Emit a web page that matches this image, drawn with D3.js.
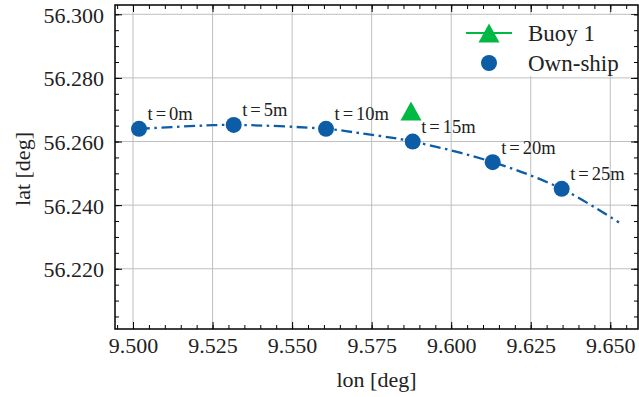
<!DOCTYPE html>
<html>
<head>
<meta charset="utf-8">
<script src="https://cdn.jsdelivr.net/npm/d3@7"></script>
<style>
  html, body { margin: 0; padding: 0; background: #fff; }
  svg { display: block; font-family: "Liberation Serif", "Times New Roman", serif; }
</style>
</head>
<body>
<div id="chart"></div>
<script>
// axis limits
const xLim = [9.49434, 9.65871];
const yLim = [56.20106, 56.30292];
const xMajor = [9.500, 9.525, 9.550, 9.575, 9.600, 9.625, 9.650];
const yMajor = [56.220, 56.240, 56.260, 56.280, 56.300];

// own-ship track (dash-dot line)
const trackLon = [9.50189, 9.52011, 9.53165, 9.56065, 9.57134, 9.58790, 9.61304, 9.63473, 9.65273];
const trackLat = [56.26398, 56.26492, 56.26523, 56.26398, 56.26263, 56.25999, 56.25352, 56.24513, 56.23455];

// own-ship positions every 5 minutes
const shipLabels = ["t=0m", "t=5m", "t=10m", "t=15m", "t=20m", "t=25m"];
const shipLon = [9.50189, 9.53165, 9.56065, 9.58790, 9.61304, 9.63473];
const shipLat = [56.26398, 56.26523, 56.26398, 56.25999, 56.25352, 56.24513];

// buoy
const buoyLon = [9.58737];
const buoyLat = [56.26963];

const legendLabels = ["Buoy 1", "Own-ship"];

const width = 639, height = 397;
const margin = { left: 115, right: 1, top: 5, bottom: 68 };
const blue = "#0C5DA5", green = "#00B945";
const serif = "'Liberation Serif', 'Times New Roman', serif";

const svg = d3.select("#chart").append("svg")
    .attr("width", width)
    .attr("height", height);

const x = d3.scaleLinear().domain(xLim).range([margin.left, width - margin.right]);
const y = d3.scaleLinear().domain(yLim).range([height - margin.bottom, margin.top]);

const x0 = x.range()[0], x1 = x.range()[1];
const y0 = y.range()[1], y1 = y.range()[0];

function minorTicks(lim, step) {
    const out = [];
    const start = Math.ceil(lim[0] / step - 1e-9);
    const end = Math.floor(lim[1] / step + 1e-9);
    for (let i = start; i <= end; i++) out.push(+(i * step).toFixed(4));
    return out;
}
const xMinor = minorTicks(xLim, 0.005);
const yMinor = minorTicks(yLim, 0.005);

// grid
svg.append("g").selectAll("line")
    .data(xMajor)
    .enter().append("line")
    .attr("x1", d => x(d)).attr("x2", d => x(d))
    .attr("y1", y0).attr("y2", y1)
    .style("stroke", "#bfbfbf").style("stroke-width", 1);
svg.append("g").selectAll("line")
    .data(yMajor)
    .enter().append("line")
    .attr("x1", x0).attr("x2", x1)
    .attr("y1", d => y(d)).attr("y2", d => y(d))
    .style("stroke", "#bfbfbf").style("stroke-width", 1);

// axes, ticks pointing in
function addAxis(axis, transform, ticks, size, labels) {
    const g = svg.append("g")
        .attr("transform", transform)
        .call(axis.tickValues(ticks).tickSize(-size).tickPadding(labels ? 9 : 0)
            .tickFormat(labels ? d3.format(".3f") : () => ""));
    g.attr("font-family", null);
    g.select(".domain").remove();
    g.selectAll(".tick line").style("stroke", "#000").style("stroke-width", 1);
    g.selectAll("text")
        .style("font-family", serif)
        .style("font-size", "22px")
        .style("fill", "#222");
    return g;
}

const xb = addAxis(d3.axisBottom(x), `translate(0,${y1})`, xMajor, 7, true);
xb.selectAll("text").attr("dy", "0.68em");
addAxis(d3.axisBottom(x), `translate(0,${y1})`, xMinor, 4, false);
addAxis(d3.axisTop(x), `translate(0,${y0})`, xMajor, 7, false);
addAxis(d3.axisTop(x), `translate(0,${y0})`, xMinor, 4, false);

const yl = addAxis(d3.axisLeft(y), `translate(${x0},0)`, yMajor, 7, true);
yl.selectAll("text").attr("dy", "0.36em").attr("x", -11);
addAxis(d3.axisLeft(y), `translate(${x0},0)`, yMinor, 4, false);
addAxis(d3.axisRight(y), `translate(${x1},0)`, yMajor, 7, false);
addAxis(d3.axisRight(y), `translate(${x1},0)`, yMinor, 4, false);

// frame
svg.append("rect")
    .attr("x", x0).attr("y", y0)
    .attr("width", x1 - x0).attr("height", y1 - y0)
    .style("fill", "none").style("stroke", "#000").style("stroke-width", 1.5);

// track
const track = trackLon.map((d, i) => [d, trackLat[i]]);
const line = d3.line()
    .x(d => x(d[0]))
    .y(d => y(d[1]))
    .curve(d3.curveCatmullRom.alpha(0.5));

svg.append("path")
    .datum(track)
    .attr("d", line)
    .style("fill", "none")
    .style("stroke", blue)
    .style("stroke-width", 2.3)
    .style("stroke-dasharray", "11,4.5,2.5,4.5");

// own-ship markers
const ships = shipLon.map((d, i) => ({ lon: d, lat: shipLat[i], label: shipLabels[i] }));
svg.append("g").selectAll("circle")
    .data(ships)
    .enter().append("circle")
    .attr("cx", d => x(d.lon))
    .attr("cy", d => y(d.lat))
    .attr("r", 8)
    .style("fill", blue);

// buoy marker
const tri = (cx, cy, w, h) => `M${cx},${cy - h / 2}L${cx + w / 2},${cy + h / 2}L${cx - w / 2},${cy + h / 2}Z`;
svg.append("g").selectAll("path")
    .data(buoyLon.map((d, i) => [d, buoyLat[i]]))
    .enter().append("path")
    .attr("d", d => tri(x(d[0]), y(d[1]), 21, 19))
    .style("fill", green);

// time annotations
const ann = svg.append("g").selectAll("text")
    .data(ships)
    .enter().append("text")
    .attr("x", d => x(d.lon) + 8.5)
    .attr("y", d => y(d.lat) - 8.5)
    .style("font-family", serif)
    .style("font-size", "18.5px")
    .style("fill", "#222");
ann.each(function(d) {
    const parts = d.label.split("=");
    const t = d3.select(this);
    t.append("tspan").text(parts[0]);
    t.append("tspan").attr("dx", 3).text("=");
    t.append("tspan").attr("dx", 3).text(parts[1]);
});

// legend
const leg = svg.append("g");
leg.append("rect")
    .attr("x", 457).attr("y", 15)
    .attr("width", 177).attr("height", 61)
    .style("fill", "#fff");
leg.append("line")
    .attr("x1", 466).attr("x2", 512)
    .attr("y1", 33).attr("y2", 33)
    .style("stroke", green).style("stroke-width", 2);
leg.append("path")
    .attr("d", tri(489, 33, 21, 19))
    .style("fill", green);
leg.append("circle")
    .attr("cx", 489).attr("cy", 63).attr("r", 8)
    .style("fill", blue);
leg.selectAll("text")
    .data(legendLabels)
    .enter().append("text")
    .attr("x", 528)
    .attr("y", (d, i) => 40.5 + i * 30)
    .style("font-family", serif)
    .style("font-size", "23px")
    .style("fill", "#222")
    .text(d => d);

// axis titles
svg.append("text")
    .attr("x", (x0 + x1) / 2)
    .attr("y", 386.5)
    .attr("text-anchor", "middle")
    .style("font-family", serif)
    .style("font-size", "22px")
    .style("fill", "#222")
    .text("lon [deg]");

svg.append("text")
    .attr("transform", `translate(30,${(y0 + y1) / 2 + 2}) rotate(-90)`)
    .attr("text-anchor", "middle")
    .style("font-family", serif)
    .style("font-size", "22px")
    .style("fill", "#222")
    .text("lat [deg]");
</script>
</body>
</html>
